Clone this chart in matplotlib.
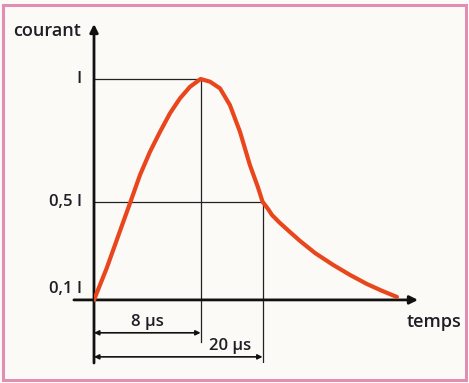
import numpy as np
import matplotlib.pyplot as plt
from matplotlib.patches import Rectangle

# courbe de l'onde de choc (temps en µs, courant rapporté à I)
t_us = [0.0, 0.113, 0.476, 0.912, 1.49, 2.21, 3.07, 4.06, 5.20, 6.48, 8.0,
        9.47, 11.17, 13.0, 15.0, 17.1, 18.9, 20.0, 21.3, 22.3, 24.3, 27.0,
        29.9, 34.4, 40.2, 46.1, 52.4, 58.4, 64.6]
courant = [0.1, 0.229, 0.381, 0.494, 0.609, 0.704, 0.785, 0.860, 0.921,
           0.968, 1.0, 0.989, 0.962, 0.894, 0.785, 0.650, 0.560, 0.5, 0.471,
           0.446, 0.414, 0.377, 0.340, 0.291, 0.243, 0.202, 0.165, 0.137,
           0.112]

niveaux = [1.0, 0.5, 0.1]
labels_niveaux = ['I', '0,5 I', '0,1 I']
t_crete = 8
t_mi = 20

plt.rcParams['font.family'] = ['Open Sans', 'DejaVu Sans']
encre = '#1e1e26'
poids = 'semibold'

fig = plt.figure(figsize=(4.69, 3.83), dpi=100)
fig.patch.set_facecolor('#fbfaf6')
fig.patches.append(Rectangle((3 / 469, 3 / 383), 463 / 469, 375 / 383,
                             transform=fig.transFigure, fill=False,
                             edgecolor='#e28db3', linewidth=2.2))

ax = fig.add_axes([94 / 469, 20 / 383, 324 / 469, 339 / 383])
ax.set_xscale('function', functions=(np.sqrt, np.square))
ax.set_xlim(0, 73.9)
ax.set_ylim(-0.157, 1.224)
ax.axis('off')

# axes avec flèches
ax.annotate('', xy=(0, 1.224), xytext=(0, -0.157),
            arrowprops=dict(arrowstyle='-|>', lw=2, color='#111111',
                            mutation_scale=12, shrinkA=0, shrinkB=0),
            annotation_clip=False)
ax.annotate('', xy=(1.0, 0.1), xytext=(-0.062, 0.1),
            xycoords=('axes fraction', 'data'),
            arrowprops=dict(arrowstyle='-|>', lw=2, color='#111111',
                            mutation_scale=12, shrinkA=0, shrinkB=0),
            annotation_clip=False)

# repères
ax.plot([0, t_crete], [1.0, 1.0], color='#222222', lw=0.9)
ax.plot([0, t_mi], [0.5, 0.5], color='#222222', lw=0.9)
ax.plot([t_crete, t_crete], [1.0, -0.071], color='#222222', lw=0.9)
ax.plot([t_mi, t_mi], [0.5, -0.157], color='#222222', lw=0.9)

ax.plot(t_us, courant, color='#e9461d', lw=3, solid_joinstyle='round',
        solid_capstyle='round', zorder=5)

# cotes
for t_fin, y in [(t_crete, -0.034), (t_mi, -0.132)]:
    ax.annotate('', xy=(t_fin, y), xytext=(0, y),
                arrowprops=dict(arrowstyle='<|-|>', lw=1.2, color='#111111',
                                mutation_scale=7, shrinkA=0, shrinkB=0))
ax.text(1.98, -0.034 + 0.012, '8 µs', ha='center', va='bottom', fontsize=12,
        color=encre, fontweight=poids)
ax.text(13.0, -0.132 + 0.012, '20 µs', ha='center', va='bottom', fontsize=12,
        color=encre, fontweight=poids)

for niv, lab in zip(niveaux, labels_niveaux):
    dy = 8 if niv == 0.1 else 0
    ax.annotate(lab, xy=(0, niv), xytext=(-9, dy), textcoords='offset points',
                ha='right', va='center', fontsize=12, color=encre,
                fontweight=poids)

ax.text(-0.04, 1.195, 'courant', transform=ax.get_yaxis_transform(),
        ha='right', va='center', fontsize=13, color=encre, fontweight=poids)
ax.text(1.135, 0.1 - 0.09, 'temps', transform=ax.get_yaxis_transform(),
        ha='right', va='center', fontsize=13, color=encre, fontweight=poids)

fig.savefig('out.png', dpi=100, facecolor=fig.get_facecolor())
